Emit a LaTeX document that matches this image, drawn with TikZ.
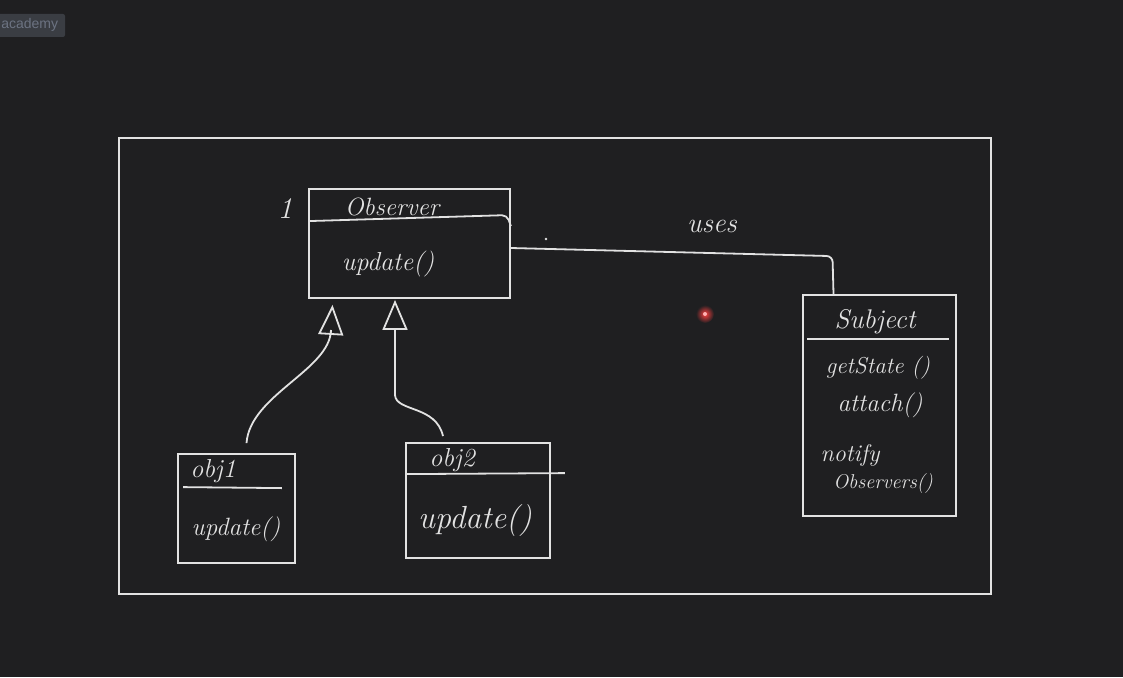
\documentclass[tikz,border=0pt]{standalone}
\usepackage{fontspec}
\usepackage{tikz}
\usetikzlibrary{arrows}
\usetikzlibrary{arrows.meta}
\usetikzlibrary{positioning}
\newfontfamily\uifont{Liberation Sans}
\definecolor{board}{HTML}{1F1F21}
\definecolor{chalk}{HTML}{E2E2E2}
\definecolor{tagbg}{HTML}{3A3D43}
\definecolor{tagfg}{HTML}{6C7382}

\begin{document}
\begin{tikzpicture}[x=1pt, y=-1pt,
    line width=1.8pt,
    >=stealth',
    classbox/.style = {draw=chalk, rectangle, inner sep=0pt},
    hand/.style = {text=chalk, font=\fontsize{#1}{#1}\selectfont\itshape, inner sep=0pt},
    hand/.default = 24,
    inherit/.style = {draw=chalk, -{Triangle[open, length=30pt, width=25pt, line width=1.8pt]}}]
\useasboundingbox (0,0) rectangle (1123,677);
\fill[board] (0,0) rectangle (1123,677);

  % tab label, cut by the page edge
  \node[fill=tagbg, rounded corners=2pt, minimum width=75pt, minimum height=23pt, inner sep=0pt] (tag) at (27.5,25.5) {};
  \node[text=tagfg, font=\uifont\fontsize{14}{16}\selectfont, anchor=east, inner sep=0pt] (tagtext) at (59,25) {academy};

  % board frame
  \node[classbox, minimum width=872pt, minimum height=456pt] (frame) at (555,366) {};

  % classes
  \node[classbox, minimum width=201pt, minimum height=109pt] (observer) at (409.5,243.5) {};
  \node[classbox, minimum width=153pt, minimum height=221pt] (subject) at (879.5,405.5) {};
  \node[classbox, minimum width=117pt, minimum height=109pt] (objone) at (236.5,508.5) {};
  \node[classbox, minimum width=144pt, minimum height=115pt] (objtwo) at (478,500.5) {};

  % dividers
  \draw[chalk, rounded corners=5pt] ([yshift=-33pt]observer.north west)
      -- ([xshift=-4pt,yshift=-27pt]observer.north east) -- ([yshift=-38pt]observer.north east);
  \draw[chalk] ([xshift=5pt,yshift=-45pt]subject.north west) -- ([xshift=-8pt,yshift=-45pt]subject.north east);
  \draw[chalk] ([xshift=6pt,yshift=-34pt]objone.north west) -- ([xshift=-14pt,yshift=-35pt]objone.north east);
  \draw[chalk] ([yshift=-32pt]objtwo.north west) -- ([xshift=14pt,yshift=-31pt]objtwo.north east);

  % texts
  \node[hand=25] (obsname) at (392,207) {Observer};
  \node[hand=26] (obsupd) at (388,264) {update()};
  \node[hand=30] (mult) at (285,209) {1};
  \node[hand=27] (subname) at (875,322) {Subject};
  \node[hand=23] (getstate) at (878,368) {getState ()};
  \node[hand=25] (attach) at (880,405) {attach()};
  \node[hand=24] (notify) at (850,455) {notify};
  \node[hand=20] (observers) at (883,484) {Observers()};
  \node[hand=26] (onename) at (213,471) {obj1};
  \node[hand=25] (oneupd) at (236,529) {update()};
  \node[hand=26] (twoname) at (452,460) {obj2};
  \node[hand=32] (twoupd) at (475,521) {update()};
  \node[hand=28] (uses) at (712,226) {uses};

  % association
  \draw[chalk, rounded corners=6pt] ([yshift=-4.5pt]observer.east)
      -- ([xshift=-47pt,yshift=38pt]subject.north) -- ([xshift=-46pt]subject.north);
  \fill[chalk] (546,239) circle (1.3);

  % generalisations
  \draw[inherit] ([xshift=10pt,yshift=10pt]objone.north)
      .. controls (250,395) and (330,370) .. (331,330) -- ([xshift=-77pt,yshift=-6pt]observer.south);
  \draw[inherit] ([xshift=-35pt,yshift=6pt]objtwo.north)
      .. controls (436,405) and (396,412) .. (395,395) -- ([xshift=-14.5pt,yshift=-1pt]observer.south);

  % pointer
  \shade[inner color=red!75!white, outer color=board] (705,314) circle (9);
  \fill[red!30!white] (705,314) circle (2);
\end{tikzpicture}
\end{document}
